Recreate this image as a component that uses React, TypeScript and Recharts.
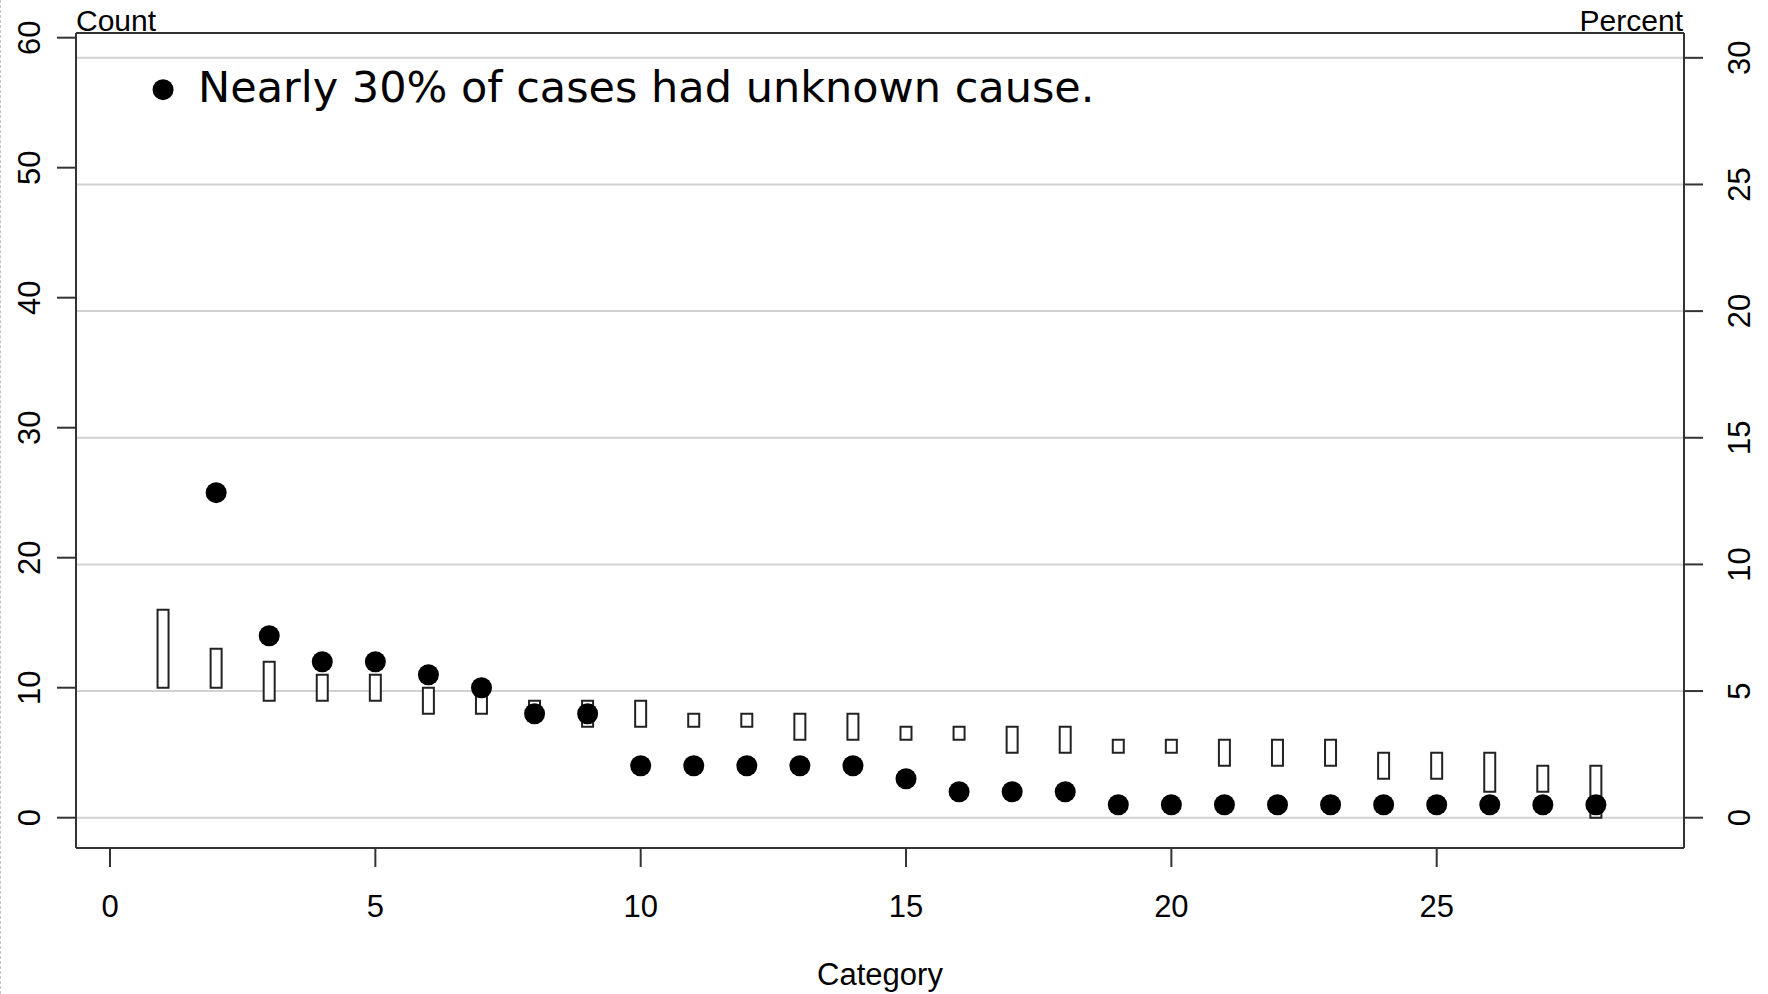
import React from 'react';
import {
  ComposedChart,
  Bar,
  Scatter,
  XAxis,
  YAxis,
  CartesianGrid,
  ReferenceLine,
} from 'recharts';

// categories 1..28, count per category (filled dots)
const categories = [
  1, 2, 3, 4, 5, 6, 7, 8, 9, 10, 11, 12, 13, 14, 15, 16, 17, 18, 19, 20, 21, 22, 23, 24, 25, 26, 27, 28,
];
const counts = [56, 25, 14, 12, 12, 11, 10, 8, 8, 4, 4, 4, 4, 4, 3, 2, 2, 2, 1, 1, 1, 1, 1, 1, 1, 1, 1, 1];
// open boxes: low / high edges, in count units
const boxLow = [10, 10, 9, 9, 9, 8, 8, 8, 7, 7, 7, 7, 6, 6, 6, 6, 5, 5, 5, 5, 4, 4, 4, 3, 3, 2, 2, 0];
const boxHigh = [16, 13, 12, 11, 11, 10, 10, 9, 9, 9, 8, 8, 8, 8, 7, 7, 7, 7, 6, 6, 6, 6, 6, 5, 5, 5, 4, 4];

const xTicks = [0, 5, 10, 15, 20, 25];
const countTicks = [0, 10, 20, 30, 40, 50, 60];
const pctTicks = [0, 5, 10, 15, 20, 25, 30];

const noteCategory = 1;
const noteText = 'Nearly 30% of cases had unknown cause.';

const W = 1768;
const H = 994;
const FRAME = '#333';
const GRID = '#d2d2d2';
const SANS = '"Liberation Sans", Arial, sans-serif';

// axis ranges (R style padding around the data)
const xDomain: [number, number] = [-0.641, 29.66];
const countDomain: [number, number] = [-2.33, 60.36];
const pctDomain: [number, number] = [-1.196, 30.98];

type Row = { cat: number; count: number; box: [number, number] };

const data: Row[] = categories.map((c, i) => ({
  cat: c,
  count: counts[i],
  box: [boxLow[i], boxHigh[i]],
}));

const LeftTick = (props: any) => (
  <text
    transform={`translate(40, ${props.y}) rotate(-90)`}
    textAnchor="middle"
    fontSize={31}
    fontFamily={SANS}
    fill="#000"
  >
    {props.payload.value}
  </text>
);

const RightTick = (props: any) => (
  <text
    transform={`translate(1750, ${props.y}) rotate(-90)`}
    textAnchor="middle"
    fontSize={31}
    fontFamily={SANS}
    fill="#000"
  >
    {props.payload.value}
  </text>
);

const BottomTick = (props: any) => (
  <text x={props.x} y={917} textAnchor="middle" fontSize={31} fontFamily={SANS} fill="#000">
    {props.payload.value}
  </text>
);

const Dot = (props: any) => {
  const { cx, cy, payload } = props;
  return (
    <g>
      <circle cx={cx} cy={cy} r={10.5} fill="#000" />
      {payload && payload.cat === noteCategory ? (
        <text
          x={cx + 35}
          y={cy + 12}
          fontSize={43}
          fontFamily='"DejaVu Sans", Verdana, sans-serif'
          fill="#000"
        >
          {noteText}
        </text>
      ) : null}
    </g>
  );
};

export default function App() {
  return (
    <div style={{ position: 'absolute', left: 0, top: 0, width: W, height: H, background: '#fff' }}>
      <div
        style={{
          position: 'absolute',
          left: 0,
          top: 0,
          height: H,
          borderLeft: '1px dashed #c4c4c4',
        }}
      />
      <ComposedChart
        width={W}
        height={H}
        data={data}
        margin={{ top: 33, right: 0, bottom: 0, left: 0 }}
      >
        <CartesianGrid yAxisId="pct" vertical={false} horizontal stroke={GRID} strokeWidth={2} />
        <XAxis
          dataKey="cat"
          type="number"
          domain={xDomain}
          ticks={xTicks}
          allowDataOverflow
          height={146}
          tickSize={19}
          tick={<BottomTick />}
          axisLine={{ stroke: FRAME, strokeWidth: 2 }}
          tickLine={{ stroke: FRAME, strokeWidth: 2 }}
        />
        <YAxis
          yAxisId="count"
          orientation="left"
          type="number"
          domain={countDomain}
          ticks={countTicks}
          allowDataOverflow
          width={76}
          tickSize={19}
          tick={<LeftTick />}
          axisLine={{ stroke: FRAME, strokeWidth: 2 }}
          tickLine={{ stroke: FRAME, strokeWidth: 2 }}
        />
        <YAxis
          yAxisId="pct"
          orientation="right"
          type="number"
          domain={pctDomain}
          ticks={pctTicks}
          allowDataOverflow
          width={84}
          tickSize={19}
          tick={<RightTick />}
          axisLine={{ stroke: FRAME, strokeWidth: 2 }}
          tickLine={{ stroke: FRAME, strokeWidth: 2 }}
        />
        <ReferenceLine yAxisId="count" y={countDomain[1]} stroke={FRAME} strokeWidth={2} />
        <Bar
          yAxisId="count"
          dataKey="box"
          barSize={11}
          fill="#fff"
          stroke="#222"
          strokeWidth={2}
          isAnimationActive={false}
        />
        <Scatter yAxisId="count" dataKey="count" shape={<Dot />} isAnimationActive={false} />
      </ComposedChart>
      <svg
        width={W}
        height={H}
        style={{ position: 'absolute', left: 0, top: 0, pointerEvents: 'none' }}
      >
        <text x={76} y={31} fontSize={30} fontFamily={SANS} fill="#000">
          Count
        </text>
        <text x={1683} y={31} fontSize={30} fontFamily={SANS} fill="#000" textAnchor="end">
          Percent
        </text>
        <text x={880} y={985} fontSize={31} fontFamily={SANS} fill="#000" textAnchor="middle">
          Category
        </text>
      </svg>
    </div>
  );
}
